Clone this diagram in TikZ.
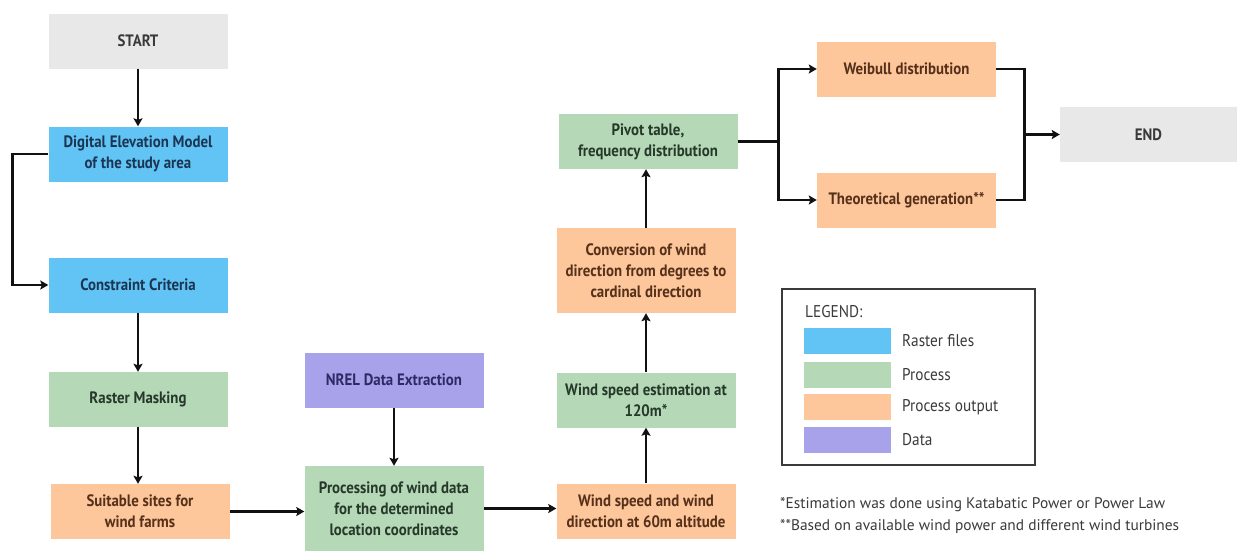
\documentclass[tikz,border=0pt]{standalone}
\usepackage{fontspec}
\setmainfont{PT Sans}
\newfontfamily\condfont{PT Sans}[FakeStretch=0.9]
\usetikzlibrary{arrows.meta}

\definecolor{fillgrey}{HTML}{E8E8E8}
\definecolor{fillblue}{HTML}{62C4F5}
\definecolor{fillgreen}{HTML}{B5D8B7}
\definecolor{fillorange}{HTML}{FEC69B}
\definecolor{fillpurple}{HTML}{A8A2EA}
\definecolor{txtgrey}{HTML}{3A3A3A}
\definecolor{txtblue}{HTML}{1B3552}
\definecolor{txtgreen}{HTML}{26382A}
\definecolor{txtorange}{HTML}{55301A}
\definecolor{txtpurple}{HTML}{2E2A66}
\definecolor{linecol}{HTML}{111111}

\begin{document}
\begin{tikzpicture}[x=1pt,y=-1pt,
  box/.style={rectangle, draw=none, align=center, inner sep=2pt,
    minimum width=179pt, minimum height=55pt,
    font=\condfont\fontsize{16.5}{21}\selectfont\bfseries},
  termbox/.style={box, fill=fillgrey, text=txtgrey},
  rasterbox/.style={box, fill=fillblue, text=txtblue},
  procbox/.style={box, fill=fillgreen, text=txtgreen},
  outbox/.style={box, fill=fillorange, text=txtorange},
  databox/.style={box, fill=fillpurple, text=txtpurple},
  tallbox/.style={minimum height=85pt},
  conn/.style={draw=linecol, line width=2.6pt, -{Stealth[length=8pt,width=9pt,inset=1.5pt]}},
  plain/.style={draw=linecol, line width=2.6pt},
  swatch/.style={rectangle, minimum width=87pt, minimum height=26pt, inner sep=0pt},
  legtext/.style={anchor=west, inner sep=0pt, text=txtgrey, font=\condfont\fontsize{17}{19}\selectfont},
  notetext/.style={anchor=west, inner sep=0pt, text=txtgrey, font=\fontsize{15.4}{18}\selectfont}]

\useasboundingbox (0,0) rectangle (1237,552);

% left column
\node[termbox]   (start) at (138,41)    {START};
\node[rasterbox] (dem)   at (138,154)   {Digital Elevation Model\\of the study area};
\node[rasterbox] (cc)    at (138,285)   {Constraint Criteria};
\node[procbox]   (rm)    at (138,399.5) {Raster Masking};
\node[outbox]    (ss)    at (140,511.5) {Suitable sites for\\wind farms};

% data column
\node[databox]   (nrel)  at (394,380)   {NREL Data Extraction};
\node[procbox, tallbox] (pw) at (394,508.5) {Processing of wind data\\for the determined\\location coordinates};

% wind column
\node[outbox]    (w60)   at (646,511)   {Wind speed and wind\\direction at 60m altitude};
\node[procbox]   (w120)  at (646,400)   {Wind speed estimation at\\120m*};
\node[outbox, tallbox] (conv) at (646,270.5) {Conversion of wind\\direction from degrees to\\cardinal direction};
\node[procbox]   (pivot) at (648,141.5) {Pivot table,\\frequency distribution};

% outputs
\node[outbox]    (weib)  at (906.5,69)  {Weibull distribution};
\node[outbox]    (theo)  at (906.5,200) {Theoretical generation**};
\node[termbox, minimum width=177pt] (end) at (1148.5,134.5) {END};

% connectors
\draw[conn] (start) -- (dem);
\draw[conn] (dem.west) -- ++(-36,0) |- (cc.west);
\draw[conn] (cc) -- (rm);
\draw[conn] (rm.south) -- (rm.south |- ss.north);
\draw[conn] (ss.east) -- (ss.east -| pw.west);
\draw[conn] (nrel) -- (pw);
\draw[conn] (pw.east) -- (pw.east -| w60.west);
\draw[conn] (w60) -- (w120);
\draw[conn] (w120) -- (conv);
\draw[conn] (conv.north) -- (conv.north |- pivot.south);
\draw[plain] (pivot.east) -- ++(41,0) coordinate (split);
\draw[conn] (split) |- (weib.west);
\draw[conn] (split) |- (theo.west);
\draw[plain] (weib.east) -- ++(28,0) coordinate (join) |- (theo.east);
\draw[conn] (join |- end.west) -- (end.west);

% legend
\node[draw=txtgrey, line width=1.2pt, rectangle, minimum width=253pt, minimum height=176pt, inner sep=0pt] (legend) at (908.5,377) {};
\node[legtext] (legtitle) at (805,312) {LEGEND:};
\node[swatch, fill=fillblue]   (sw1) at (847.5,341) {};
\node[swatch, fill=fillgreen]  (sw2) at (847.5,374.5) {};
\node[swatch, fill=fillorange] (sw3) at (847.5,407) {};
\node[swatch, fill=fillpurple] (sw4) at (847.5,440) {};
\node[legtext] (lab1) at (902,341)   {Raster files};
\node[legtext] (lab2) at (902,374.5) {Process};
\node[legtext] (lab3) at (902,407)   {Process output};
\node[legtext] (lab4) at (902,440)   {Data};

% footnotes
\node[notetext] (note1) at (780,505) {*Estimation was done using Katabatic Power or Power Law};
\node[notetext] (note2) at (780,527) {**Based on available wind power and different wind turbines};
\end{tikzpicture}
\end{document}
